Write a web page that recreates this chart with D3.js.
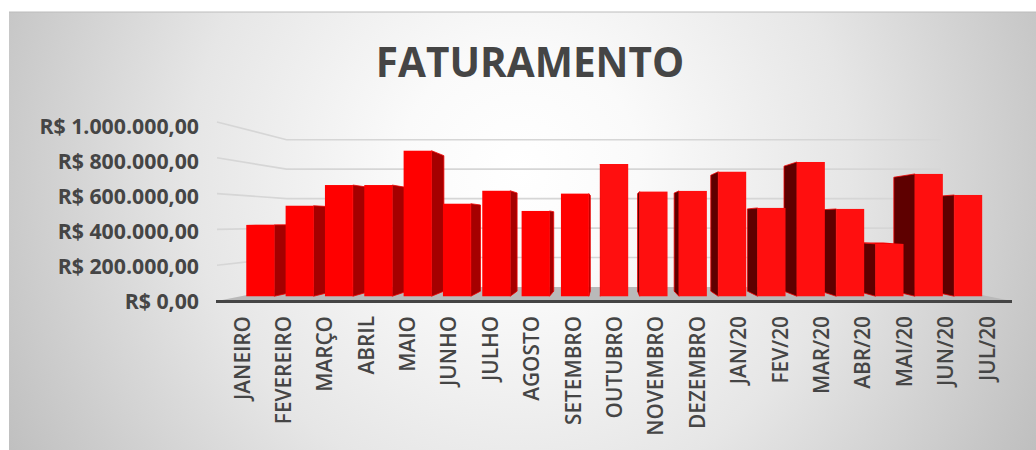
<!DOCTYPE html>
<html><head><meta charset="utf-8">
<script src="https://cdn.jsdelivr.net/npm/d3@7"></script>
<style>html,body{margin:0;padding:0;background:#fff;overflow:hidden}svg{display:block}text{font-family:"Open Sans",sans-serif;font-weight:700;fill:#454545}</style>
</head><body><svg id="c" width="1036" height="450"></svg>
<script>
const titleText = "FATURAMENTO";
const categories = ["JANEIRO","FEVEREIRO","MARÇO","ABRIL","MAIO","JUNHO","JULHO","AGOSTO","SETEMBRO","OUTUBRO","NOVEMBRO","DEZEMBRO","JAN/20","FEV/20","MAR/20","ABR/20","MAI/20","JUN/20","JUL/20"];
const values = [424000,538000,661000,661000,865000,550000,627000,507000,610000,786000,622000,626000,740000,525000,798000,519000,311000,727000,602000];
const ticks = [0,200000,400000,600000,800000,1000000];

const svg = d3.select("#c");
const W=1036,H=450;
const defs = svg.append("defs");
const g = defs.append("radialGradient").attr("id","bg").attr("gradientUnits","userSpaceOnUse")
  .attr("cx",520).attr("cy",170).attr("r",600);
[[0,"#ffffff"],[.2,"#fafafa"],[.55,"#e6e6e6"],[.9,"#c6c6c6"],[1,"#bdbdbd"]].forEach(s=>g.append("stop").attr("offset",s[0]).attr("stop-color",s[1]));
svg.append("rect").attr("x",9).attr("y",12).attr("width",W-9).attr("height",H-12).attr("fill","url(#bg)");
svg.append("line").attr("x1",9).attr("x2",W).attr("y1",12).attr("y2",12).attr("stroke","#bcbcbc").attr("stroke-width",1);

svg.append("text").attr("x",530).attr("y",77).attr("text-anchor","middle").attr("font-size",40.5).text(titleText);

// perspective
const vp={x:610,y:222}, dBack=.823, dBarF=.94, dBarB=.875;
const P=(x,y,d)=>[vp.x+(x-vp.x)*d, vp.y+(y-vp.y)*d];
const x=d3.scaleBand().domain(categories).range([217,1012]).paddingInner(.29).paddingOuter(.145);
const y=d3.scaleLinear().domain([0,1000000]).range([301,122]);
const line=d3.line();

// walls
svg.append("path").attr("d",line([P(217,y(0),1),P(1012,y(0),1),P(1012,y(0),dBack),P(217,y(0),dBack)])+"Z").attr("fill","#b9b9b9");
ticks.slice(1).forEach(t=>{
  svg.append("path").attr("fill","none").attr("stroke","#d6d6d6").attr("stroke-width",1.6)
    .attr("d",line([P(217,y(t),1),P(217,y(t),dBack),P(1012,y(t),dBack)]));
});

// bars: sides and tops behind, fronts on top
const bars=categories.map((c,i)=>({c,v:values[i],x0:x(c),x1:x(c)+x.bandwidth(),yt:y(values[i]),yb:y(0)}));
const isLeft=d=>(d.x0+d.x1)/2<vp.x;
svg.append("g").selectAll("path").data(bars).join("path")
  .attr("d",d=>{const e=isLeft(d)?d.x1:d.x0;return line([P(e,d.yt,dBarF),P(e,d.yt,dBarB),P(e,d.yb,dBarB),P(e,d.yb,dBarF)])+"Z";})
  .attr("fill",d=>isLeft(d)?"#a50000":"#5e0000").attr("stroke","#f00000").attr("stroke-width",.8);
svg.append("g").selectAll("path").data(bars.filter(d=>d.yt>vp.y)).join("path")
  .attr("d",d=>line([P(d.x0,d.yt,dBarF),P(d.x1,d.yt,dBarF),P(d.x1,d.yt,dBarB),P(d.x0,d.yt,dBarB)])+"Z")
  .attr("fill","#f40000");
svg.append("g").selectAll("rect").data(bars).join("rect")
  .attr("x",d=>P(d.x0,0,dBarF)[0]).attr("width",d=>(d.x1-d.x0)*dBarF)
  .attr("y",d=>P(0,d.yt,dBarF)[1]).attr("height",d=>(d.yb-d.yt)*dBarF)
  .attr("fill",d=>isLeft(d)?"#ff0000":"#ff0f0f");

// base line
svg.append("line").attr("x1",216).attr("x2",1012).attr("y1",y(0)+.5).attr("y2",y(0)+.5).attr("stroke","#454545").attr("stroke-width",3);

// axis labels
const yl=d3.scaleLinear().domain([0,1000000]).range([301,126.5]);
const fmt=v=>"R$ "+d3.format(",.2f")(v).replace(/,/g,"#").replace(".",",").replace(/#/g,".");
svg.append("g").selectAll("text").data(ticks).join("text")
  .attr("x",199).attr("y",d=>yl(d)).attr("dy","0.36em").attr("text-anchor","end").attr("font-size",21.3).text(fmt);
const xl=d3.scalePoint().domain(categories).range([242,987]);
svg.append("g").selectAll("text").data(categories).join("text")
  .attr("transform",d=>`translate(${xl(d)},316) rotate(-90)`).attr("dy","0.36em").attr("text-anchor","end").attr("font-size",20.8).attr("style","font-weight:600").text(d=>d);
</script></body></html>
